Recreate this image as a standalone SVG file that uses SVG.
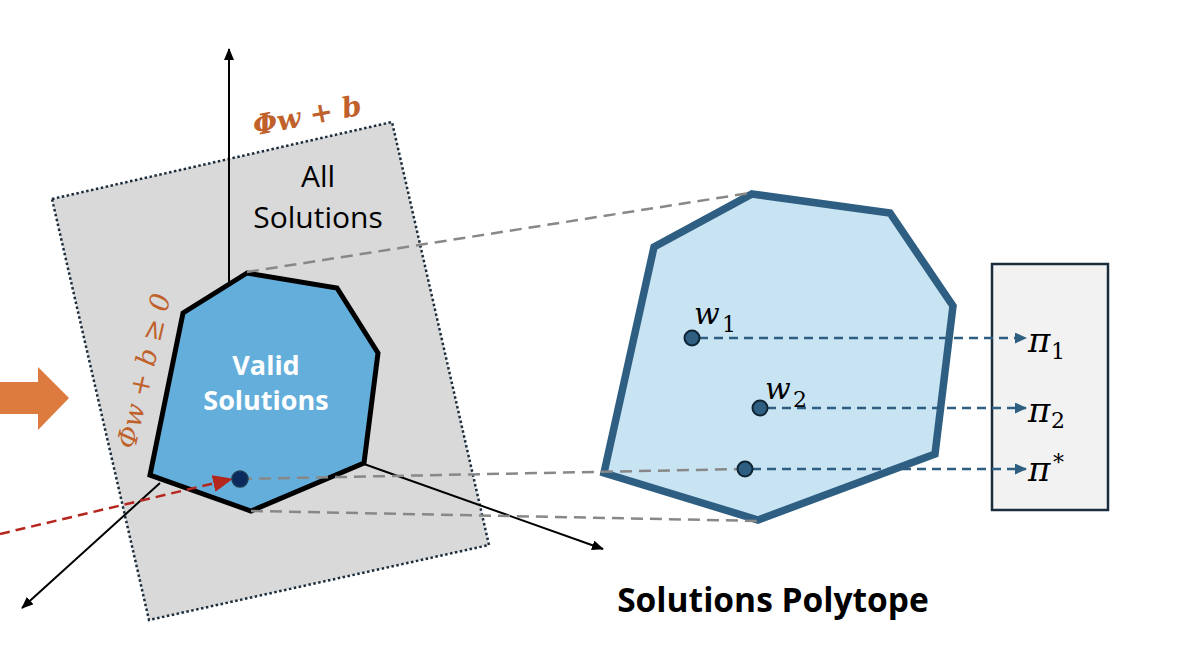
<svg xmlns="http://www.w3.org/2000/svg" width="1194" height="672" viewBox="0 0 1194 672">
<defs>
<style>
.sans{font-family:"Open Sans","Liberation Sans",sans-serif}
.math{font-family:"DejaVu Serif","Liberation Serif",serif;font-style:italic}
.sub{font-style:normal;font-size:22px}
.axis{stroke:#000;stroke-width:2;fill:none}
.gdash{stroke:#888;stroke-width:2.5;stroke-dasharray:12 7;fill:none}
.bdash{stroke:#2e5f82;stroke-width:2.5;stroke-dasharray:9 6;fill:none}
.pt{fill:#2e5f82;stroke:#0f2533;stroke-width:2}
.orange{fill:#c0612b}
</style>
<marker id="blk" markerWidth="12" markerHeight="10" refX="11" refY="5" orient="auto" markerUnits="userSpaceOnUse"><path d="M0,0 L12,5 L0,10 Z" fill="#000"/></marker>
<marker id="blu" markerWidth="12" markerHeight="11" refX="11" refY="5.5" orient="auto" markerUnits="userSpaceOnUse"><path d="M0,0 L12,5.5 L0,11 Z" fill="#2e5f82"/></marker>
<marker id="red" markerWidth="20" markerHeight="17" refX="19" refY="8.5" orient="auto" markerUnits="userSpaceOnUse"><path d="M0,0 L20,8.5 L0,17 Z" fill="#b5261e"/></marker>
</defs>
<rect width="1194" height="672" fill="#fff"/>
<g id="input-arrow"><polygon points="0,382 38,382 38,367 69,398 38,430 38,414 0,414" fill="#dd7a3e"/></g>
<g id="all-solutions">
<polygon points="52,199 392,122 489,545 149,620" fill="#d9d9d9" stroke="#1b2d3c" stroke-width="2.5" stroke-dasharray="2.5 2.5"/>
<text class="sans" x="318" y="187" font-size="30" text-anchor="middle" fill="#000">All</text>
<text class="sans" x="318" y="228" font-size="30" text-anchor="middle" fill="#000">Solutions</text>
<text class="math orange" transform="translate(309,125) rotate(-11)" font-size="28" font-weight="bold" text-anchor="middle" textLength="110" lengthAdjust="spacing">Φw + b</text>
<text class="math orange" transform="translate(135,450) rotate(-77)" font-size="27" textLength="158" lengthAdjust="spacing">Φw + b ≥ 0</text>
</g>
<g id="axes">
<line class="axis" x1="229" y1="283" x2="229" y2="49" marker-end="url(#blk)"/>
<line class="axis" x1="160" y1="483" x2="22" y2="608" marker-end="url(#blk)"/>
<line class="axis" x1="364" y1="464" x2="603" y2="549" marker-end="url(#blk)"/>
</g>
<g id="valid-solutions">
<polygon points="247,273 337,288 378,353 364,463 251,511 150,475 183,313" fill="#64aedb" stroke="#000" stroke-width="5" stroke-linejoin="miter"/>
<text class="sans" x="266" y="375" font-size="27" font-weight="bold" text-anchor="middle" fill="#fff">Valid</text>
<text class="sans" x="266" y="410" font-size="27" font-weight="bold" text-anchor="middle" fill="#fff">Solutions</text>
</g>
<g id="solutions-polytope">
<polygon points="752,194 890,213 953,306 935,454 758,520 604,473 654,247" fill="#c8e3f2" stroke="#2e5f82" stroke-width="7.5" stroke-linejoin="miter"/>
<text class="sans" x="773" y="612" font-size="33.5" font-weight="bold" text-anchor="middle" fill="#000">Solutions Polytope</text>
</g>
<g id="policies">
<rect x="992" y="264" width="116" height="246" fill="#f2f2f2" stroke="#1b2d3c" stroke-width="2.5"/>
<text class="math" x="1028" y="352" font-size="34" fill="#000">π<tspan class="sub" x="1051" y="359">1</tspan></text>
<text class="math" x="1028" y="422" font-size="34" fill="#000">π<tspan class="sub" x="1051" y="428">2</tspan></text>
<text class="math" x="1028" y="481" font-size="34" fill="#000">π<tspan class="sub" x="1053" y="470">*</tspan></text>
</g>
<g id="connectors">
<line class="gdash" x1="247" y1="272" x2="750" y2="193"/>
<line class="gdash" x1="240" y1="479" x2="745" y2="469"/>
<line class="gdash" x1="251" y1="511" x2="758" y2="521"/>
<line x1="0" y1="534" x2="232" y2="479" stroke="#b5261e" stroke-width="2.5" stroke-dasharray="10 6" marker-end="url(#red)"/>
<line class="bdash" x1="699" y1="338" x2="1026" y2="338" marker-end="url(#blu)"/>
<line class="bdash" x1="767" y1="408" x2="1026" y2="408" marker-end="url(#blu)"/>
<line class="bdash" x1="752" y1="469" x2="1026" y2="469" marker-end="url(#blu)"/>
</g>
<g id="point-star"><circle cx="240" cy="479" r="8" fill="#0b2a5e" stroke="#1d3b55" stroke-width="1.5"/></g>
<g id="w1"><circle class="pt" cx="692" cy="338" r="7.5"/><text class="math" x="694" y="324" font-size="30" fill="#000">w<tspan class="sub" x="722" y="332">1</tspan></text></g>
<g id="w2"><circle class="pt" cx="760" cy="408" r="7.5"/><text class="math" x="765" y="399" font-size="30" fill="#000">w<tspan class="sub" x="793" y="407">2</tspan></text></g>
<g id="wstar"><circle class="pt" cx="745" cy="469" r="7.5"/></g>
</svg>
